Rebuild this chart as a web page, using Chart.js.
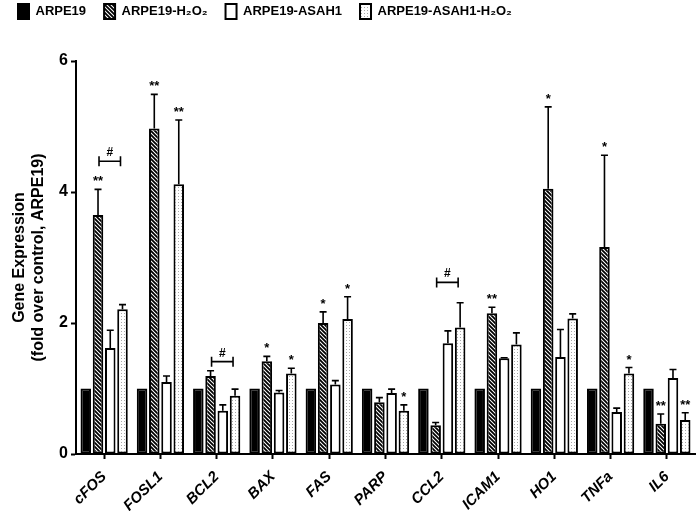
<!DOCTYPE html>
<html>
<head>
<meta charset="utf-8">
<script src="https://cdn.jsdelivr.net/npm/chart.js@4.4.1/dist/chart.umd.min.js"></script>
<style>
  html, body { margin: 0; padding: 0; background: #fff; }
  #wrap { width: 697px; height: 511px; }
</style>
</head>
<body>
<div id="wrap"><canvas id="chart"></canvas></div>
<script>
const genes = ["cFOS", "FOSL1", "BCL2", "BAX", "FAS", "PARP", "CCL2", "ICAM1", "HO1", "TNFa", "IL6"];
const seriesNames = ["ARPE19", "ARPE19-H\u2082O\u2082", "ARPE19-ASAH1", "ARPE19-ASAH1-H\u2082O\u2082"];

const arpe19 = [1, 1, 1, 1, 1, 1, 1, 1, 1, 1, 1];
const arpe19H2o2 = [3.65, 4.97, 1.19, 1.415, 2.0, 0.79, 0.44, 2.15, 4.05, 3.16, 0.46];
const arpe19Asah1 = [1.62, 1.10, 0.66, 0.94, 1.06, 0.93, 1.69, 1.46, 1.48, 0.64, 1.16];
const arpe19Asah1H2o2 = [2.21, 4.12, 0.89, 1.23, 2.06, 0.66, 1.93, 1.67, 2.07, 1.23, 0.52];

// upper ends of the error bars (mean + SEM)
const arpe19H2o2Err = [4.04, 5.49, 1.27, 1.49, 2.17, 0.86, 0.48, 2.24, 5.30, 4.56, 0.61];
const arpe19Asah1Err = [1.89, 1.19, 0.75, 0.97, 1.12, 0.99, 1.88, 1.47, 1.90, 0.70, 1.29];
const arpe19Asah1H2o2Err = [2.28, 5.10, 0.99, 1.31, 2.40, 0.75, 2.31, 1.85, 2.14, 1.32, 0.63];

// significance marks
const arpe19H2o2Sig = ["**", "**", "", "*", "*", "", "", "**", "*", "*", "**"];
const arpe19Asah1H2o2Sig = ["", "**", "", "*", "*", "*", "", "", "", "*", "**"];

// "#" brackets between H2O2 and ASAH1-H2O2 bars
const bracketGenes = ["cFOS", "BCL2", "CCL2"];
const bracketLevels = [4.47, 1.41, 2.62];

const yTicks = [0, 2, 4, 6];

function hatchPattern() {
  const c = document.createElement("canvas");
  c.width = 4; c.height = 4;
  const g = c.getContext("2d");
  g.fillStyle = "#fff";
  g.fillRect(0, 0, 4, 4);
  g.strokeStyle = "#000";
  g.lineWidth = 1.8;
  g.beginPath();
  g.moveTo(-1, -1); g.lineTo(5, 5);
  g.moveTo(3, -1); g.lineTo(5, 1);
  g.moveTo(-1, 3); g.lineTo(1, 5);
  g.stroke();
  return g.createPattern(c, "repeat");
}

function dotPattern() {
  const c = document.createElement("canvas");
  c.width = 3; c.height = 3;
  const g = c.getContext("2d");
  g.fillStyle = "#fff";
  g.fillRect(0, 0, 3, 3);
  g.fillStyle = "#a8a8a8";
  g.fillRect(1, 1, 1, 1);
  return g.createPattern(c, "repeat");
}

const errTops = [null, arpe19H2o2Err, arpe19Asah1Err, arpe19Asah1H2o2Err];
const sigMarks = [null, arpe19H2o2Sig, null, arpe19Asah1H2o2Sig];

const errorBars = {
  id: "errorBars",
  afterDatasetsDraw(chart) {
    const ctx = chart.ctx;
    const y = chart.scales.y;
    ctx.save();
    ctx.strokeStyle = "#000";
    ctx.fillStyle = "#000";
    ctx.lineWidth = 1.6;
    ctx.textAlign = "center";
    ctx.textBaseline = "alphabetic";
    ctx.font = "bold 13px 'Liberation Sans', Arial, sans-serif";
    errTops.forEach((tops, di) => {
      if (!tops) return;
      const meta = chart.getDatasetMeta(di);
      meta.data.forEach((bar, i) => {
        const yt = y.getPixelForValue(tops[i]);
        ctx.beginPath();
        ctx.moveTo(bar.x, bar.y);
        ctx.lineTo(bar.x, yt);
        ctx.moveTo(bar.x - 3.5, yt);
        ctx.lineTo(bar.x + 3.5, yt);
        ctx.stroke();
        const marks = sigMarks[di];
        if (marks && marks[i]) {
          ctx.fillText(marks[i], bar.x, yt - 4);
        }
      });
    });

    // brackets
    const m1 = chart.getDatasetMeta(1);
    const m3 = chart.getDatasetMeta(3);
    ctx.font = "bold 12px 'Liberation Sans', Arial, sans-serif";
    bracketGenes.forEach((gname, k) => {
      const i = genes.indexOf(gname);
      const x1 = m1.data[i].x + 1;
      const x2 = m3.data[i].x - 2;
      const yb = y.getPixelForValue(bracketLevels[k]);
      ctx.beginPath();
      ctx.moveTo(x1, yb); ctx.lineTo(x2, yb);
      ctx.moveTo(x1, yb - 5); ctx.lineTo(x1, yb + 5);
      ctx.moveTo(x2, yb - 5); ctx.lineTo(x2, yb + 5);
      ctx.stroke();
      ctx.fillText("#", (x1 + x2) / 2, yb - 5);
    });
    ctx.restore();
  }
};

const legendSpace = {
  id: "legendSpace",
  beforeInit(chart) {
    const fit = chart.legend.fit;
    chart.legend.fit = function () {
      fit.bind(chart.legend)();
      this.height += 32;
    };
  }
};

const hatch = hatchPattern();
const dots = dotPattern();

const barStyle = {
  borderColor: "#000",
  borderWidth: 2,
  borderSkipped: false,
  categoryPercentage: 0.87,
  barPercentage: 0.86
};

new Chart(document.getElementById("chart"), {
  type: "bar",
  data: {
    labels: genes,
    datasets: [
      { label: seriesNames[0], data: arpe19, backgroundColor: "#000", ...barStyle },
      { label: seriesNames[1], data: arpe19H2o2, backgroundColor: hatch, ...barStyle },
      { label: seriesNames[2], data: arpe19Asah1, backgroundColor: "#fff", ...barStyle },
      { label: seriesNames[3], data: arpe19Asah1H2o2, backgroundColor: dots, ...barStyle }
    ]
  },
  options: {
    responsive: true,
    maintainAspectRatio: false,
    animation: false,
    layout: { padding: { top: -14, right: 2, left: 0, bottom: 0 } },
    plugins: {
      tooltip: { enabled: false },
      legend: {
        position: "top",
        align: "start",
        labels: {
          boxWidth: 11,
          boxHeight: 15,
          padding: 18,
          color: "#000",
          font: { family: "'Liberation Sans', Arial", size: 13, weight: "bold" }
        }
      }
    },
    scales: {
      x: {
        afterFit(scale) { scale.height = 57; },
        grid: { display: true, drawOnChartArea: false, offset: false, tickLength: 5, tickWidth: 2, tickColor: "#000" },
        border: { color: "#000", width: 2 },
        ticks: {
          color: "#000",
          minRotation: 45,
          maxRotation: 45,
          padding: 9,
          font: { family: "'Liberation Sans', Arial", size: 15, weight: "bold", style: "italic" }
        }
      },
      y: {
        min: 0,
        max: 6,
        afterFit(scale) { scale.width = 76; },
        afterBuildTicks(scale) { scale.ticks = yTicks.map(v => ({ value: v })); },
        grid: { display: true, drawOnChartArea: false, tickLength: 5, tickWidth: 2, tickColor: "#000" },
        border: { color: "#000", width: 2 },
        ticks: {
          color: "#000",
          padding: 3,
          font: { family: "'Liberation Sans', Arial", size: 16, weight: "bold" }
        },
        title: {
          display: true,
          text: ["Gene Expression", "(fold over control, ARPE19)"],
          color: "#000",
          padding: { top: 10, bottom: 0 },
          font: { family: "'Liberation Sans', Arial", size: 16, weight: "bold" }
        }
      }
    }
  },
  plugins: [errorBars, legendSpace]
});
</script>
</body>
</html>
